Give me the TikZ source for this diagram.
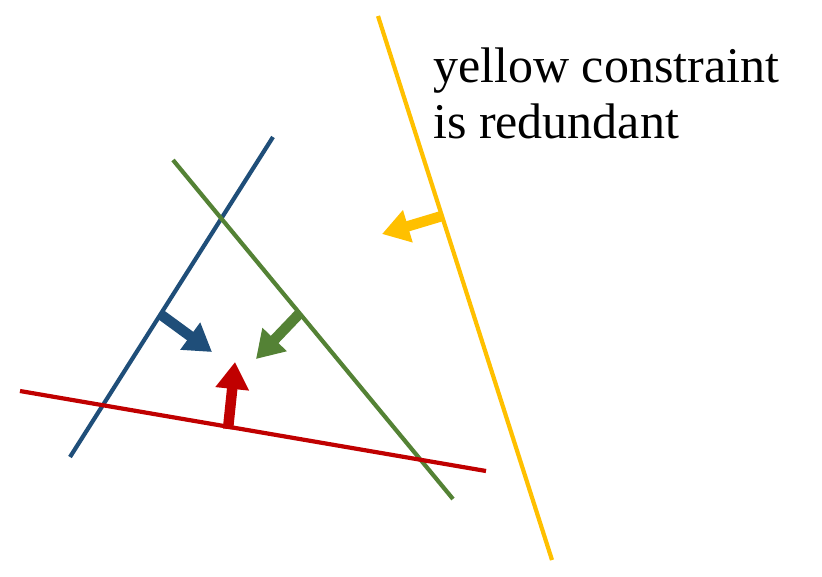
\documentclass[tikz,border=0pt]{standalone}
\usepackage{fontspec}
\setmainfont{Liberation Serif}
\usetikzlibrary{arrows.meta}
\definecolor{cyellow}{HTML}{FFC000}
\definecolor{cblue}{HTML}{1F4E79}
\definecolor{cgreen}{HTML}{548235}
\definecolor{cred}{HTML}{C00000}
\begin{document}
\begin{tikzpicture}[x=1pt,y=-1pt,
  cline/.style={line width=4.2pt},
  carrow/.style={line width=10.5pt,-{Triangle[length=27pt,width=32pt]}}]
\useasboundingbox (0,0) rectangle (822,576);
% constraint lines
\coordinate (y1) at (378,16);  \coordinate (y2) at (552,560);
\coordinate (b1) at (273,137); \coordinate (b2) at (70,457);
\coordinate (g1) at (173,160); \coordinate (g2) at (453,499);
\coordinate (r1) at (20,391);  \coordinate (r2) at (486,471);
\draw[cline,cyellow] (y1) -- (y2);
\draw[cline,cblue] (b1) -- (b2);
\draw[cline,cgreen] (g1) -- (g2);
\draw[cline,cred] (r1) -- (r2);
% normal arrows
\coordinate (ya) at (442,216); \coordinate (yt) at (382,234);
\coordinate (ba) at (160,314); \coordinate (bt) at (212,352);
\coordinate (ga) at (299,314); \coordinate (gt) at (256,359);
\coordinate (ra) at (228,429); \coordinate (rt) at (235,362);
\draw[carrow,cyellow] (ya) -- (yt);
\draw[carrow,cblue] (ba) -- (bt);
\draw[carrow,cgreen] (ga) -- (gt);
\draw[carrow,cred] (ra) -- (rt);
% label
\node[anchor=base west,inner sep=0pt,font=\fontsize{50pt}{56pt}\selectfont,align=left] (lab) at (433,138) {yellow constraint\\is redundant};
\end{tikzpicture}
\end{document}
